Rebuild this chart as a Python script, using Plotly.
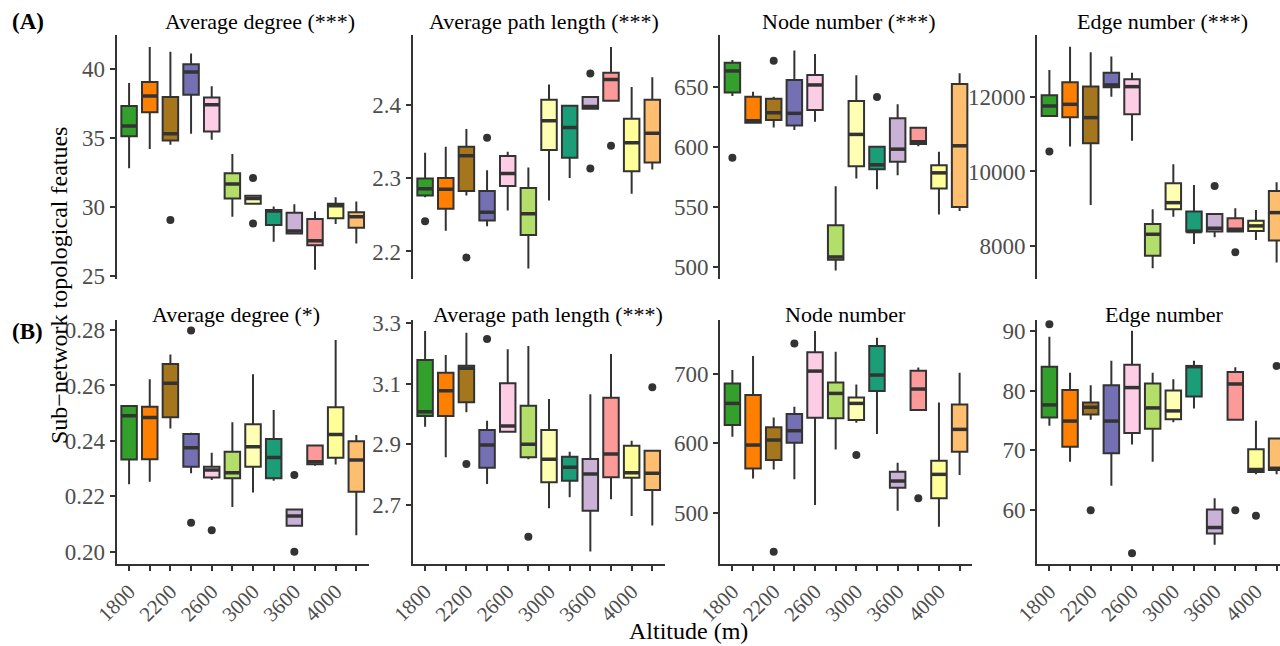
import plotly.graph_objects as go

# ---------------- data ----------------
tick_labels = ["1800", "", "2200", "", "2600", "", "3000", "", "3600", "", "4000", ""]
box_colors = ["#33A02C", "#FF7F00", "#A6761D", "#7570B3", "#FCCDE5", "#B3DE69",
              "#FFFFB3", "#1B9E77", "#CAB2D6", "#FB9A99", "#FFFF99", "#FDBF6F"]

# (A) Average degree
a1_hi = [38.96, 41.57, 41.21, 41.09, 38.72, 33.83, 30.80, 30.02, 30.19, 29.66, 30.70, 30.39]
a1_q3 = [37.29, 39.03, 37.94, 40.31, 37.90, 32.43, 30.80, 29.78, 29.58, 29.12, 30.22, 29.60]
a1_md = [35.84, 38.02, 35.28, 39.76, 37.39, 31.65, 30.60, 29.70, 28.25, 27.54, 30.07, 29.29]
a1_q1 = [35.11, 36.85, 34.80, 38.11, 35.45, 30.61, 30.22, 28.69, 28.07, 27.23, 29.17, 28.49]
a1_lo = [32.79, 34.19, 34.50, 35.28, 34.85, 29.28, 30.22, 27.47, 28.07, 25.45, 28.76, 27.34]
a1_out_x = [2, 6, 6]
a1_out_y = [29.04, 32.09, 28.80]

# (A) Average path length
a2_hi = [2.3346, 2.3428, 2.3670, 2.3108, 2.3359, 2.3144, 2.4275, 2.4000, 2.4114, 2.4787, 2.4243, 2.4375]
a2_q3 = [2.2993, 2.3002, 2.3428, 2.2824, 2.3300, 2.2865, 2.4069, 2.3986, 2.4105, 2.4435, 2.3808, 2.4069]
a2_md = [2.2856, 2.2847, 2.3304, 2.2535, 2.3062, 2.2513, 2.3780, 2.3689, 2.3977, 2.4343, 2.3483, 2.3611]
a2_q1 = [2.2764, 2.2581, 2.2824, 2.2421, 2.2892, 2.2224, 2.3382, 2.3277, 2.3945, 2.4055, 2.3094, 2.3213]
a2_lo = [2.2740, 2.2284, 2.2764, 2.2343, 2.2558, 2.1767, 2.2696, 2.3002, 2.3945, 2.4055, 2.2787, 2.3117]
a2_out_x = [0, 2, 3, 8, 8, 9]
a2_out_y = [2.2412, 2.1918, 2.3551, 2.4426, 2.3130, 2.3442]

# (A) Node number
a3_hi = [672.9, 646.4, 642.2, 680.7, 677.9, 567.5, 660.0, 600.4, 635.8, 617.1, 596.2, 661.7]
a3_q3 = [670.6, 642.2, 640.5, 656.1, 660.3, 534.9, 638.6, 600.4, 624.1, 616.3, 585.0, 652.8]
a3_md = [663.7, 622.1, 628.8, 628.3, 652.0, 508.4, 610.7, 585.3, 598.4, 604.6, 578.6, 601.2]
a3_q1 = [645.8, 620.4, 622.7, 618.2, 631.0, 506.1, 584.2, 581.7, 587.8, 602.6, 565.5, 550.2]
a3_lo = [642.8, 619.9, 616.5, 614.3, 621.3, 497.2, 573.9, 565.0, 576.7, 600.9, 543.8, 546.8]
a3_out_x = [0, 2, 7]
a3_out_y = [591.2, 672.3, 641.9]

# (A) Edge number
a4_hi = [12737, 13366, 13214, 13097, 12665, 8980, 10193, 9636, 8855, 9008, 8963, 9709]
a4_q3 = [12054, 12404, 12288, 12665, 12485, 8584, 9681, 8917, 8855, 8739, 8674, 9475]
a4_md = [11766, 11811, 11452, 12333, 12288, 8306, 9159, 8378, 8469, 8442, 8532, 8890]
a4_q1 = [11497, 11461, 10760, 12270, 11542, 7730, 8980, 8378, 8378, 8378, 8397, 8135]
a4_lo = [11497, 10670, 9097, 12018, 10831, 7389, 8782, 8046, 8227, 8378, 8154, 7542]
a4_out_x = [0, 8, 9]
a4_out_y = [10535, 9610, 7823]

# (B) Average degree
b1_hi = [0.2529, 0.2622, 0.2712, 0.2429, 0.2357, 0.2467, 0.2640, 0.2511, 0.2153, 0.2387, 0.2764, 0.2421]
b1_q3 = [0.2526, 0.2523, 0.2677, 0.2425, 0.2307, 0.2361, 0.2460, 0.2407, 0.2153, 0.2383, 0.2521, 0.2399]
b1_md = [0.2491, 0.2484, 0.2608, 0.2375, 0.2295, 0.2285, 0.2379, 0.2340, 0.2129, 0.2325, 0.2423, 0.2331]
b1_q1 = [0.2333, 0.2334, 0.2485, 0.2307, 0.2268, 0.2265, 0.2307, 0.2265, 0.2094, 0.2316, 0.2339, 0.2217]
b1_lo = [0.2244, 0.2253, 0.2445, 0.2283, 0.2259, 0.2162, 0.2214, 0.2256, 0.2094, 0.2310, 0.2315, 0.2060]
b1_out_x = [3, 3, 4, 8, 8]
b1_out_y = [0.2798, 0.2105, 0.2078, 0.2277, 0.2000]

# (B) Average path length
b2_hi = [3.2747, 3.1954, 3.2692, 2.9785, 3.2141, 3.2251, 3.0501, 2.8762, 3.0655, 3.1987, 2.9125, 2.8795]
b2_q3 = [3.1789, 3.1371, 3.1602, 2.9477, 3.1018, 3.0281, 2.9477, 2.8596, 2.8519, 3.0545, 2.8960, 2.8795]
b2_md = [3.0083, 3.0776, 3.1514, 2.8982, 2.9609, 2.9004, 2.8508, 2.8244, 2.8024, 2.8684, 2.8068, 2.8046]
b2_q1 = [2.9940, 2.9940, 3.0391, 2.8233, 2.9422, 2.8574, 2.7749, 2.7804, 2.6813, 2.7914, 2.7903, 2.7495]
b2_lo = [2.9587, 2.8574, 3.0061, 2.7694, 2.9422, 2.8508, 2.6890, 2.7253, 2.5459, 2.7187, 2.6637, 2.6318]
b2_out_x = [2, 3, 5, 11]
b2_out_y = [2.8354, 3.2483, 2.5954, 3.0886]

# (B) Node number
b3_hi = [705.8, 726.0, 637.5, 652.9, 762.0, 732.2, 685.1, 752.4, 572.1, 709.6, 659.1, 701.9]
b3_q3 = [686.5, 669.7, 623.1, 642.3, 731.3, 688.0, 666.3, 740.4, 559.1, 704.8, 575.0, 656.2]
b3_md = [657.7, 597.6, 604.8, 618.3, 704.3, 672.1, 657.7, 698.6, 545.7, 678.4, 555.3, 620.2]
b3_q1 = [626.4, 563.9, 576.0, 601.0, 637.0, 636.1, 633.7, 675.5, 536.1, 648.1, 520.7, 588.0]
b3_lo = [609.6, 549.5, 562.5, 548.1, 511.0, 591.3, 629.8, 613.5, 502.9, 648.1, 479.8, 554.3]
b3_out_x = [2, 3, 6, 9]
b3_out_y = [443.8, 744.2, 583.2, 520.7]

# (B) Edge number
b4_hi = [89.0, 83.0, 80.9, 85.0, 90.0, 83.0, 81.9, 85.0, 62.0, 83.9, 74.95, 72.0]
b4_q3 = [84.0, 80.1, 78.0, 80.9, 84.3, 81.2, 80.0, 84.1, 60.1, 83.1, 70.17, 72.0]
b4_md = [77.6, 74.9, 77.2, 74.9, 80.5, 77.1, 76.6, 84.0, 57.1, 81.1, 66.8, 67.0]
b4_q1 = [75.5, 70.6, 76.0, 69.5, 72.9, 73.6, 75.2, 79.0, 56.1, 75.1, 66.4, 66.7]
b4_lo = [74.1, 68.1, 75.1, 64.1, 71.0, 68.1, 74.7, 77.0, 54.2, 75.1, 66.0, 66.0]
b4_out_x = [0, 2, 4, 9, 10, 11]
b4_out_y = [91.1, 60.0, 52.8, 60.0, 59.06, 84.1]

panel_titles = ["Average degree (***)", "Average path length (***)", "Node number (***)", "Edge number (***)",
                "Average degree (*)", "Average path length (***)", "Node number", "Edge number"]
y_ticks = [[25, 30, 35, 40], [2.2, 2.3, 2.4], [500, 550, 600, 650], [8000, 10000, 12000],
           [0.20, 0.22, 0.24, 0.26, 0.28], [2.7, 2.9, 3.1, 3.3], [500, 600, 700], [60, 70, 80, 90]]
y_tick_text = [["25", "30", "35", "40"], ["2.2", "2.3", "2.4"], ["500", "550", "600", "650"],
               ["8000", "10000", "12000"], ["0.20", "0.22", "0.24", "0.26", "0.28"],
               ["2.7", "2.9", "3.1", "3.3"], ["500", "600", "700"], ["60", "70", "80", "90"]]

# ---------------- layout geometry ----------------
W, H = 1280, 646
FONT = "Liberation Serif"
EDGE = "#333333"
TICKC = "#4D4D4D"

panel_left = [116.7, 412.7, 720.0, 1037.0]
panel_w = 252.0
row_px = [(35, 279), (320, 564)]
y_ranges = [[24.78, 42.43], [2.1625, 2.495], [490.0, 693.7], [7100, 13680],
            [0.1956, 0.2836], [2.505, 3.311], [426, 778], [51.0, 91.8]]
title_x = [260, 543.5, 849, 1162, 236, 548, 845.5, 1164.5]
title_y = [22, 22, 22, 22, 314, 314, 314, 314]

panels = [
    (a1_hi, a1_q3, a1_md, a1_q1, a1_lo, a1_out_x, a1_out_y),
    (a2_hi, a2_q3, a2_md, a2_q1, a2_lo, a2_out_x, a2_out_y),
    (a3_hi, a3_q3, a3_md, a3_q1, a3_lo, a3_out_x, a3_out_y),
    (a4_hi, a4_q3, a4_md, a4_q1, a4_lo, a4_out_x, a4_out_y),
    (b1_hi, b1_q3, b1_md, b1_q1, b1_lo, b1_out_x, b1_out_y),
    (b2_hi, b2_q3, b2_md, b2_q1, b2_lo, b2_out_x, b2_out_y),
    (b3_hi, b3_q3, b3_md, b3_q1, b3_lo, b3_out_x, b3_out_y),
    (b4_hi, b4_q3, b4_md, b4_q1, b4_lo, b4_out_x, b4_out_y),
]

BW = 0.75
fig = go.Figure()
layout_axes = {}
cat_px = panel_w / 12.2

for k, (hi, q3, md, q1, lo, ox, oy) in enumerate(panels):
    n = k + 1
    xr = "x" if n == 1 else f"x{n}"
    yr = "y" if n == 1 else f"y{n}"
    for i in range(len(md)):
        fig.add_trace(go.Box(
            x=[i], q1=[q1[i]], median=[md[i]], q3=[q3[i]],
            lowerfence=[lo[i]], upperfence=[hi[i]],
            width=BW, fillcolor=box_colors[i],
            line=dict(color=EDGE, width=2), whiskerwidth=0,
            boxpoints=False, hoverinfo="skip", showlegend=False,
            xaxis=xr, yaxis=yr))
    # thicker median bars
    mx, my = [], []
    for i, m in enumerate(md):
        mx += [i - BW / 2, i + BW / 2, None]
        my += [m, m, None]
    fig.add_trace(go.Scatter(x=mx, y=my, mode="lines", line=dict(color=EDGE, width=3.5),
                             hoverinfo="skip", showlegend=False, xaxis=xr, yaxis=yr))
    fig.add_trace(go.Scatter(x=ox, y=oy, mode="markers", marker=dict(size=8, color=EDGE),
                             hoverinfo="skip", showlegend=False, xaxis=xr, yaxis=yr))

    col = k % 4
    row = k // 4
    left = panel_left[col]
    right = min(left + panel_w, W)
    xmax = -0.6 + (right - left) / cat_px
    top, bot = row_px[row]
    xa = dict(domain=[left / W, right / W], range=[-0.6, xmax], anchor=yr, automargin=False,
              showgrid=False, zeroline=False, fixedrange=True)
    if row == 0:
        xa.update(visible=False)
    else:
        xa.update(showline=True, linecolor=EDGE, linewidth=2, ticks="outside", ticklen=5,
                  tickwidth=1.5, tickcolor=EDGE, tickmode="array", tickvals=list(range(12)),
                  ticktext=tick_labels, tickangle=-45,
                  tickfont=dict(family=FONT, size=21, color=TICKC))
    ya = dict(domain=[1 - bot / H, 1 - top / H], range=y_ranges[k], anchor=xr, automargin=False,
              showgrid=False, zeroline=False, showline=True, linecolor=EDGE, linewidth=2,
              ticks="outside", ticklen=5, tickwidth=1.5, tickcolor=EDGE,
              tickmode="array", tickvals=y_ticks[k], ticktext=y_tick_text[k],
              tickfont=dict(family=FONT, size=23, color=TICKC))
    layout_axes["xaxis" if n == 1 else f"xaxis{n}"] = xa
    layout_axes["yaxis" if n == 1 else f"yaxis{n}"] = ya

annotations = []
for k, t in enumerate(panel_titles):
    annotations.append(dict(text=t, x=title_x[k] / W, y=1 - title_y[k] / H, xref="paper", yref="paper",
                            xanchor="center", yanchor="middle", showarrow=False,
                            font=dict(family=FONT, size=22, color="black")))
annotations += [
    dict(text="<b>(A)</b>", x=28 / W, y=1 - 22 / H, xref="paper", yref="paper", showarrow=False,
         xanchor="center", yanchor="middle", font=dict(family=FONT, size=23, color="black")),
    dict(text="<b>(B)</b>", x=27 / W, y=1 - 331 / H, xref="paper", yref="paper", showarrow=False,
         xanchor="center", yanchor="middle", font=dict(family=FONT, size=23, color="black")),
    dict(text="Altitude (m)", x=688 / W, y=1 - 631 / H, xref="paper", yref="paper", showarrow=False,
         xanchor="center", yanchor="middle", font=dict(family=FONT, size=24, color="black")),
    dict(text="Sub\u2212network topological featues", x=59 / W, y=1 - 286 / H, xref="paper", yref="paper",
         showarrow=False, textangle=-90, xanchor="center", yanchor="middle",
         font=dict(family=FONT, size=24, color="black")),
]

fig.update_layout(width=W, height=H, margin=dict(l=0, r=0, t=0, b=0, autoexpand=False),
                  paper_bgcolor="white", plot_bgcolor="white", boxmode="overlay",
                  showlegend=False, annotations=annotations, **layout_axes)

fig.write_html("out.html")
